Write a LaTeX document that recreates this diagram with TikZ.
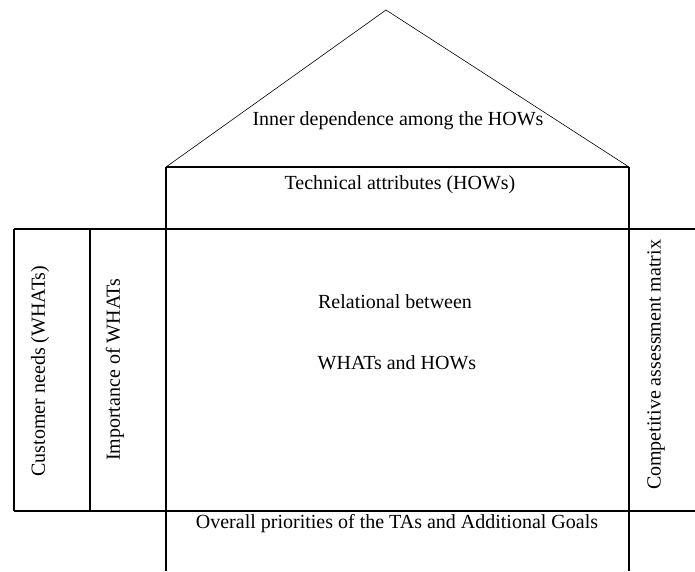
\documentclass[tikz,border=0pt]{standalone}
\usepackage{fontspec}
\setmainfont{Liberation Serif}
\begin{document}
\begin{tikzpicture}[x=1pt,y=-1pt,
  box/.style={line width=1.3pt},
  roof/.style={line width=0.6pt},
  lbl/.style={font=\fontsize{20}{22}\selectfont, inner sep=0pt}]
\useasboundingbox (0,0) rectangle (695,571);
% key points
\coordinate (apex) at (386,10);
\coordinate (rl) at (166,167);
\coordinate (rr) at (629,167);
\coordinate (bl) at (166,571);
\coordinate (br) at (629,571);
\coordinate (tl) at (14,229);
\coordinate (tr) at (695,229);
\coordinate (ll) at (14,511);
\coordinate (lr) at (695,511);
\coordinate (d1) at (90,229);
\coordinate (d2) at (90,511);
% roof
\draw[roof] (rl) -- (apex) -- (rr);
% frame
\draw[box] (rl) -- (rr);
\draw[box] (rl) -- (bl);
\draw[box] (rr) -- (br);
\draw[box] (tl) -- (tr);
\draw[box] (ll) -- (lr);
\draw[box] (tl) -- (ll);
\draw[box] (d1) -- (d2);
% labels
\node[lbl] (inner) at (398,121) {Inner dependence among the HOWs};
\node[lbl] (tech) at (400,185) {Technical attributes (HOWs)};
\node[lbl] (rel1) at (395,302) {Relational between};
\node[lbl] (rel2) at (397,363) {WHATs and HOWs};
\node[lbl, rotate=90] (cust) at (40,371) {Customer needs (WHATs)};
\node[lbl, rotate=90] (imp) at (115,370) {Importance of WHATs};
\node[lbl, rotate=90] (comp) at (656,365) {Competitive assessment matrix};
\node[lbl] (over) at (397,524) {Overall priorities of the TAs and Additional Goals};
\end{tikzpicture}
\end{document}
